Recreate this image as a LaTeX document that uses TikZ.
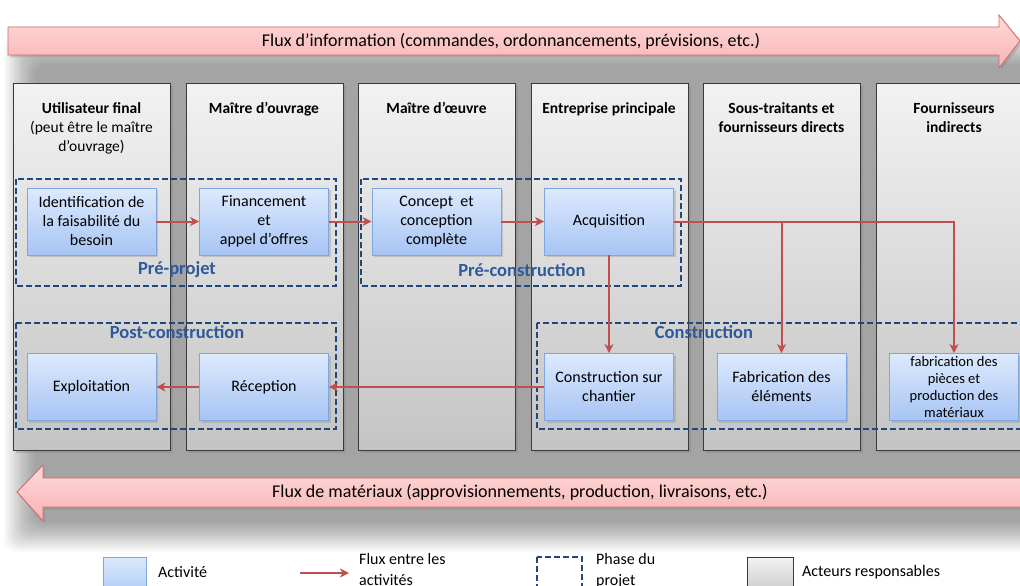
\documentclass[tikz,border=0pt]{standalone}
\usepackage{fontspec}
\setmainfont{Carlito}
\usetikzlibrary{arrows.meta,shadows}
\definecolor{colT}{HTML}{F2F2F2}
\definecolor{colB}{HTML}{C4C4C4}
\definecolor{colD}{HTML}{3A3A3A}
\definecolor{actT}{HTML}{DDEAFD}
\definecolor{actB}{HTML}{A7C4F4}
\definecolor{actD}{HTML}{7FA6DE}
\definecolor{flowR}{HTML}{C0504D}
\definecolor{phaseB}{HTML}{1F497D}
\definecolor{phaseL}{HTML}{2E5A9A}
\definecolor{pinkT}{HTML}{FFDADA}
\definecolor{pinkB}{HTML}{F8B2B2}
\definecolor{pinkD}{HTML}{CD6B6A}
\begin{document}
\begin{tikzpicture}[x=1pt,y=-1pt,
  column/.style={draw=colD, line width=1.1pt, top color=colT, bottom color=colB,
    minimum width=157pt, minimum height=367pt, anchor=north west, inner sep=0pt,
    drop shadow={opacity=0.35, shadow xshift=2.5pt, shadow yshift=-2.5pt}},
  header/.style={anchor=north, align=center, font=\fontsize{15.5}{19}\selectfont, inner sep=0pt},
  act/.style={draw=actD, line width=0.8pt, top color=actT, bottom color=actB,
    minimum width=129pt, minimum height=67pt, inner sep=2pt, align=center,
    font=\fontsize{16}{19}\selectfont,
    drop shadow={opacity=0.3, shadow xshift=2pt, shadow yshift=-2pt}},
  phase/.style={draw=phaseB, line width=1.6pt, dash pattern=on 6pt off 3pt},
  phaselabel/.style={text=phaseL, font=\fontsize{18.5}{20}\selectfont\bfseries, inner sep=0pt},
  flow/.style={draw=flowR, line width=2pt, -{Stealth[length=9pt,width=9pt,inset=2.5pt]}},
  bigarrow/.style={draw=pinkD, line width=0.9pt, top color=pinkT, bottom color=pinkB,
    drop shadow={opacity=0.3, shadow xshift=2pt, shadow yshift=-2.5pt}},
  bigtext/.style={font=\fontsize{18}{20}\selectfont, inner sep=0pt},
  legtext/.style={anchor=west, align=left, font=\fontsize{16}{21}\selectfont, inner sep=0pt},
]
\clip (0,0) rectangle (1020,586);
\fill[white] (0,0) rectangle (1020,586);
% background glow
\foreach \i in {0,...,19}
  \fill[black, opacity=0.02, rounded corners=12pt] (4+\i*1.6, 34+\i*1.6) rectangle (1060, 552-\i*1.6);

% top arrow
\path[bigarrow] (8,27) -- (999,27) -- (999,15) -- (1020,41) -- (999,68) -- (999,55) -- (8,55) -- cycle;
\node[bigtext] (info) at (511,41) {Flux d’information (commandes, ordonnancements, prévisions, etc.)};

% columns
\node[column] (c1) at (13,83) {};
\node[column] (c2) at (185.5,83) {};
\node[column] (c3) at (358,83) {};
\node[column] (c4) at (530.5,83) {};
\node[column] (c5) at (703,83) {};
\node[column] (c6) at (875.5,83) {};

\node[header] (h1) at (91.5,102) {\textbf{Utilisateur final}\\(peut être le maître\\d’ouvrage)};
\node[header] (h2) at (264,102) {\textbf{Maître d’ouvrage}};
\node[header] (h3) at (436.5,102) {\textbf{Maître d’œuvre}};
\node[header] (h4) at (609,102) {\textbf{Entreprise principale}};
\node[header] (h5) at (781.5,102) {\textbf{Sous-traitants et}\\\textbf{fournisseurs directs}};
\node[header] (h6) at (954,102) {\textbf{Fournisseurs}\\\textbf{indirects}};

% phases
\draw[phase] (16,179) rectangle (336,286);
\draw[phase] (361,179) rectangle (681,286);
\draw[phase] (16,323) rectangle (336,429);
\draw[phase] (537,323) rectangle (1040,429);
\node[phaselabel] (p1) at (177,270) {Pré-projet};
\node[phaselabel] (p2) at (522,270) {Pré-construction};
\node[phaselabel] (p3) at (177,332) {Post-construction};
\node[phaselabel] (p4) at (704,332) {Construction};

% activities
\node[act] (ident) at (91.5,221.5) {Identification de\\la faisabilité du\\besoin};
\node[act] (fin) at (264,221.5) {Financement\\et\\appel d’offres};
\node[act] (conc) at (436.5,221.5) {Concept\ \ et\\conception\\complète};
\node[act] (acq) at (609,221.5) {Acquisition};
\node[act] (expl) at (91.5,387) {Exploitation};
\node[act] (rec) at (264,387) {Réception};
\node[act] (chan) at (609,387) {Construction sur\\chantier};
\node[act] (fab) at (781.5,387) {Fabrication des\\éléments};
\node[act, font=\fontsize{14.5}{17.3}\selectfont] (piec) at (954,387) {fabrication des\\pièces et\\production des\\matériaux};

% flows
\draw[flow] (ident) -- (fin);
\draw[flow] (fin) -- (conc);
\draw[flow] (conc) -- (acq);
\draw[flow] (acq.east) -| (piec.north);
\draw[flow] (acq.east -| fab.north) -- (fab.north);
\draw[flow] (acq.south) -- (chan.north);
\draw[flow] (chan.west) -- (rec.east);
\draw[flow] (rec.west) -- (expl.east);

% bottom arrow
\path[bigarrow] (17,492) -- (43,465) -- (43,478) -- (1030,478) -- (1030,507) -- (43,507) -- (43,521) -- cycle;
\node[bigtext] (mat) at (520,492) {Flux de matériaux (approvisionnements, production, livraisons, etc.)};

% legend
\path[draw=actD, line width=0.8pt, top color=actT, bottom color=actB] (103,557) rectangle (146,600);
\node[legtext] (l1) at (158,572) {Activité};
\coordinate (la1) at (300,573);
\coordinate (la2) at (349,573);
\draw[flow, line width=1.8pt] (la1) -- (la2);
\node[legtext, anchor=north west] (l2) at (359,553) {Flux entre les\\activités};
\draw[phase, line width=1.4pt] (537,557) rectangle (582,600);
\node[legtext, anchor=north west] (l3) at (596,553) {Phase du\\projet};
\path[draw=colD, line width=1pt, top color=colT, bottom color=colB] (747,557) rectangle (793,600);
\node[legtext] (l4) at (802,572) {Acteurs responsables};
\end{tikzpicture}
\end{document}
